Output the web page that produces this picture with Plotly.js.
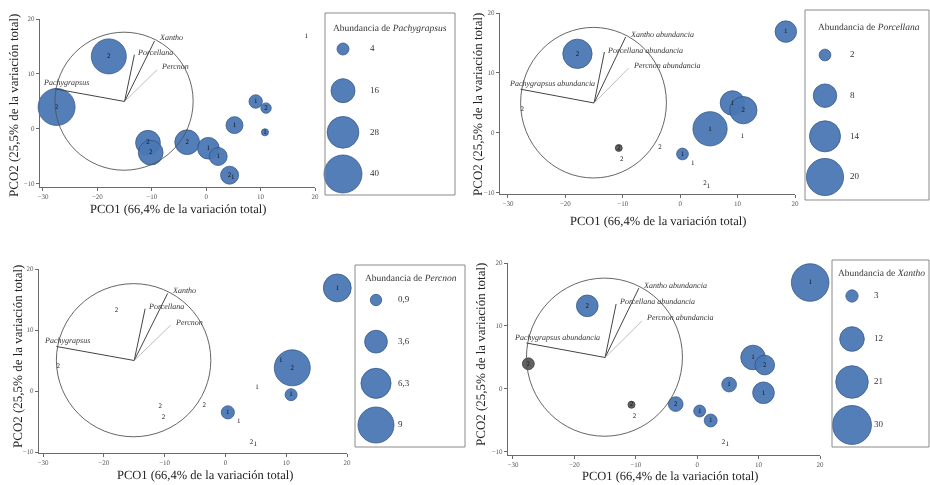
<!DOCTYPE html>
<html><head><meta charset="utf-8">
<script src="https://cdn.plot.ly/plotly-3.0.1.min.js"></script>
<style>
html,body{margin:0;padding:0;background:#fff}
#chart{width:930px;height:485px}
#chart .main-svg{will-change:transform}
#chart text{text-rendering:geometricPrecision}
</style>
</head><body><div id="chart"></div>
<script>
// ---------------- DATA ----------------
const pointX = [-27.5, -17.9, -10.7, -10.2, -3.5, 0.4, 2.2, 4.3, 4.9, 5.2, 9.1, 11.0, 10.8, 18.4];
const pointY = [4.0, 13.2, -2.5, -4.3, -2.4, -3.5, -5.0, -8.4, -8.8, 0.7, 5.0, 3.8, -0.6, 16.9];
const pointGroup = ['2','2','2','2','2','1','1','2','1','1','1','2','1','1'];
const abPachygrapsus = [38, 34, 17, 17, 17, 13, 9, 9, 0, 8, 5, 3, 1.4, 0];
const abPorcellana   = [0, 12.5, 0.7, 0, 0, 2, 0, 0, 0, 17, 8.7, 10.8, 0, 6.7];
const abPercnon      = [0, 0, 0, 0, 0, 1.2, 0, 0, 0, 0, 0, 9, 1, 5.4];
const abXantho       = [2.8, 9.3, 1, 0, 4.3, 2.8, 3.3, 0, 0, 4.3, 12, 7.7, 9.3, 28];
const legPachygrapsus = [4, 16, 28, 40];
const legPorcellana   = [2, 8, 14, 20];
const legPercnon      = [0.9, 3.6, 6.3, 9];
const legXantho       = [3, 12, 21, 30];
const legLabPachygrapsus = ['4', '16', '28', '40'];
const legLabPorcellana   = ['2', '8', '14', '20'];
const legLabPercnon      = ['0,9', '3,6', '6,3', '9'];
const legLabXantho       = ['3', '12', '21', '30'];
const vecNames = ['Pachygrapsus', 'Porcellana', 'Xantho', 'Percnon'];
const vecX = [-27.8, -13.2, -9.5, -9.0];
const vecY = [7.3, 13.5, 16.0, 10.8];
const vecOrigin = [-15.0, 5.0];
const circleBounds = [-27.8, -7.5, -2.4, 17.6];
const xTicks = [-30, -20, -10, 0, 10, 20];
const yTicks = [-10, 0, 10, 20];
const xTitle = 'PCO1 (66,4% de la variación total)';
const yTitle = 'PCO2 (25,5% de la variación total)';

// ---------------- STYLE / LAYOUT ----------------
const W = 930, H = 485;
const fx = px => px / W;
const fy = py => 1 - py / H;
const SERIF = '"Liberation Serif", "DejaVu Serif", serif';
const BLUE = '#4a78b5', BLUE_EDGE = '#2f5283', GREY = '#5a5a5a';

const panels = [
  {sp:'Pachygrapsus', ab:abPachygrapsus, leg:legPachygrapsus, legLab:legLabPachygrapsus, k:6.0, grey:[],
   xpx:[40,315], xr:[-30.55,20], ypx:[19,187], yr:[-10.55,20], box:[325,13,455,195], tt:[390,28],
   bubX:343, labX:370, legY:[49,174], xt:[178,209], yt:[13,106], suffix:''},
  {sp:'Porcellana', ab:abPorcellana, leg:legPorcellana, legLab:legLabPorcellana, k:8.3, grey:[2],
   xpx:[500,795], xr:[-31.39,20], ypx:[13,194], yr:[-10.17,20], box:[805,10,929,200], tt:[869,27],
   bubX:825, labX:850, legY:[55,177], xt:[658,221], yt:[477,105], suffix:' abundancia'},
  {sp:'Percnon', ab:abPercnon, leg:legPercnon, legLab:legLabPercnon, k:12.0, grey:[],
   xpx:[39,347], xr:[-30.66,20], ypx:[269,453], yr:[-10.16,20], box:[355,265,465,447], tt:[411,278],
   bubX:376, labX:398, legY:[300,425], xt:[205,475], yt:[17,357], suffix:''},
  {sp:'Xantho', ab:abXantho, leg:legXantho, legLab:legLabXantho, k:7.1, grey:[0,2],
   xpx:[508,820], xr:[-30.81,20], ypx:[263,455], yr:[-10.48,20], box:[832,260,929,447], tt:[881,273],
   bubX:852, labX:874, legY:[296,425], xt:[670,476], yt:[480,355], suffix:' abundancia'}
];
// label offsets per vector (px)
const vecLabelShift = [
  {xanchor:'left', xs:-14, ys:6},
  {xanchor:'left', xs:1, ys:2},
  {xanchor:'left', xs:2, ys:3},
  {xanchor:'left', xs:2, ys:3}
];

const traces = [], shapes = [], annotations = [];
const layout = {
  width: W, height: H, margin:{l:0,r:0,t:0,b:0}, paper_bgcolor:'#fff', plot_bgcolor:'rgba(0,0,0,0)',
  showlegend:false, font:{family:SERIF, color:'#222'}
};

panels.forEach((p, i) => {
  const n = i + 1, m = i + 5;
  const xa = n === 1 ? 'x' : 'x' + n, ya = n === 1 ? 'y' : 'y' + n;
  const axCommon = {showline:true, linecolor:'#6a6a6a', linewidth:1, ticks:'outside', ticklen:3,
    tickcolor:'#6a6a6a', showgrid:false, zeroline:false, fixedrange:true,
    tickfont:{family:SERIF, size:7, color:'#555'}};
  layout['xaxis' + (n === 1 ? '' : n)] = Object.assign({}, axCommon, {
    domain:[fx(p.xpx[0]), fx(p.xpx[1])], range:p.xr, anchor:ya, tickvals:xTicks});
  layout['yaxis' + (n === 1 ? '' : n)] = Object.assign({}, axCommon, {
    domain:[fy(p.ypx[1]), fy(p.ypx[0])], range:p.yr, anchor:xa, tickvals:yTicks});

  // correlation circle
  shapes.push({type:'circle', xref:xa, yref:ya, x0:circleBounds[0], y0:circleBounds[1],
    x1:circleBounds[2], y1:circleBounds[3], line:{color:'#555', width:0.9}});
  // vectors
  vecNames.forEach((v, j) => {
    const isPer = v === 'Percnon';
    shapes.push({type:'line', xref:xa, yref:ya, x0:vecOrigin[0], y0:vecOrigin[1], x1:vecX[j], y1:vecY[j],
      line:{color:isPer ? '#b5b5b5' : '#444', width:isPer ? 0.9 : 1}});
    const s = vecLabelShift[j];
    annotations.push({xref:xa, yref:ya, x:vecX[j], y:vecY[j], text:'<i>' + v + p.suffix + '</i>',
      showarrow:false, xanchor:s.xanchor, yanchor:'middle', xshift:s.xs, yshift:s.ys,
      font:{family:SERIF, size:8, color:'#333'}});
  });

  // bubbles
  const idx = pointX.map((_, j) => j).filter(j => p.ab[j] > 0);
  traces.push({type:'scatter', mode:'markers', xaxis:xa, yaxis:ya, cliponaxis:false, hoverinfo:'skip',
    x: idx.map(j => pointX[j]), y: idx.map(j => pointY[j]),
    marker:{size: idx.map(j => p.ab[j]), sizemode:'area', sizeref: 2 / (p.k * p.k),
      color: idx.map(j => p.grey.includes(j) ? GREY : BLUE), opacity:0.95,
      line:{color: idx.map(j => p.grey.includes(j) ? '#333' : BLUE_EDGE), width:0.8}}});
  // point labels
  traces.push({type:'scatter', mode:'text', xaxis:xa, yaxis:ya, cliponaxis:false, hoverinfo:'skip',
    x: pointX, y: pointY, text: pointGroup, textposition:'middle center',
    textfont:{family:SERIF, size:7, color:'#111'}});

  // legend axes
  const [bx0, by0, bx1, by1] = p.box;
  const dx = p.labX - p.bubX;
  const s = (p.legY[1] - p.legY[0]) / (p.leg.length - 1);
  const lxa = 'x' + m, lya = 'y' + m;
  layout['xaxis' + m] = {domain:[fx(bx0), fx(bx1)], range:[-(p.bubX - bx0) / dx, (bx1 - p.bubX) / dx],
    anchor:lya, visible:false, fixedrange:true};
  layout['yaxis' + m] = {domain:[fy(by1), fy(by0)], range:[(by1 - p.legY[0]) / s, (by0 - p.legY[0]) / s],
    anchor:lxa, visible:false, fixedrange:true};
  traces.push({type:'scatter', mode:'markers', xaxis:lxa, yaxis:lya, cliponaxis:false, hoverinfo:'skip',
    x: p.leg.map(() => 0), y: p.leg.map((_, k) => k),
    marker:{size:p.leg, sizemode:'area', sizeref:2 / (p.k * p.k), color:BLUE, opacity:0.95,
      line:{color:BLUE_EDGE, width:0.8}}});
  traces.push({type:'scatter', mode:'text', xaxis:lxa, yaxis:lya, cliponaxis:false, hoverinfo:'skip',
    x: p.leg.map(() => 1), y: p.leg.map((_, k) => k), text:p.legLab, textposition:'middle right',
    textfont:{family:SERIF, size:9, color:'#333'}});
  shapes.push({type:'rect', xref:'paper', yref:'paper', x0:fx(bx0), x1:fx(bx1), y0:fy(by1), y1:fy(by0),
    line:{color:'#8a8a8a', width:1}});
  annotations.push({xref:'paper', yref:'paper', x:fx(p.tt[0]), y:fy(p.tt[1]), showarrow:false,
    xanchor:'center', yanchor:'middle', text:'Abundancia de <i>' + p.sp + '</i>',
    font:{family:SERIF, size:9.5, color:'#333'}});

  // axis titles
  annotations.push({xref:'paper', yref:'paper', x:fx(p.xt[0]), y:fy(p.xt[1]), showarrow:false,
    xanchor:'center', yanchor:'middle', text:xTitle, font:{family:SERIF, size:12.5, color:'#222'}});
  annotations.push({xref:'paper', yref:'paper', x:fx(p.yt[0]), y:fy(p.yt[1]), showarrow:false,
    xanchor:'center', yanchor:'middle', textangle:-90, text:yTitle, font:{family:SERIF, size:13, color:'#222'}});
});

layout.shapes = shapes;
layout.annotations = annotations;
Plotly.newPlot('chart', traces, layout, {staticPlot:true, displayModeBar:false});
</script></body></html>
